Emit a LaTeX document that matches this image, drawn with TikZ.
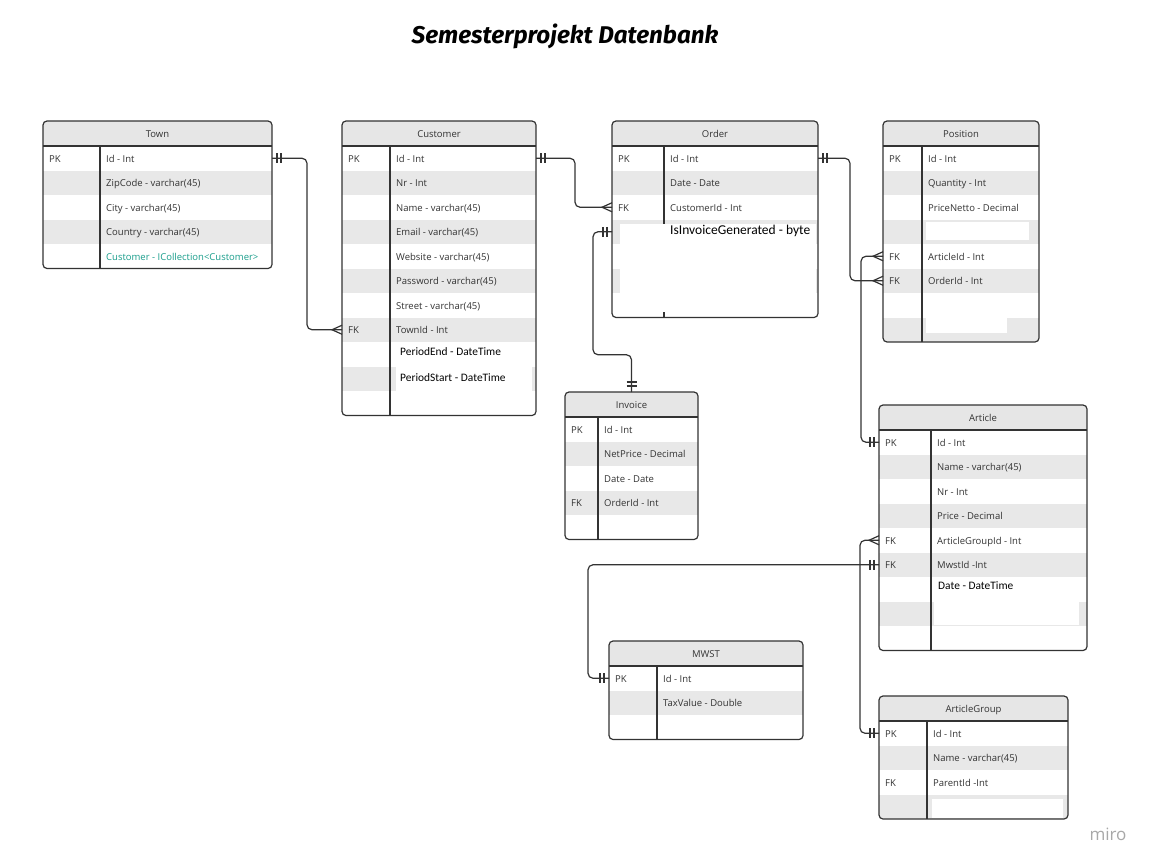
\documentclass[tikz,border=0pt]{standalone}
\usepackage{fontspec}
\setmainfont{Open Sans}
\newfontfamily\pastefont{Carlito}
\newfontfamily\titlefont{Fira Sans}
\usetikzlibrary{calc}
\definecolor{hdrgray}{HTML}{E6E6E6}
\definecolor{rowgray}{HTML}{E8E8E8}
\definecolor{ink}{HTML}{333333}
\definecolor{tealtext}{HTML}{1A9E8C}
\definecolor{mirogray}{HTML}{A8A8A8}
\tikzset{
  tblbox/.style={draw=ink, line width=1.2pt, rounded corners=4pt, inner sep=0pt, outer sep=0pt},
  tblline/.style={draw=ink, line width=1.2pt},
  hdrtxt/.style={font=\fontsize{9.5}{11}\selectfont, text=ink, inner sep=0pt, anchor=base},
  keytxt/.style={font=\fontsize{9.5}{11}\selectfont, text=ink, inner sep=0pt, anchor=base west},
  fldtxt/.style={font=\fontsize{9.5}{11}\selectfont, text=ink, inner sep=0pt, anchor=base west},
  pastetxt/.style={font=\pastefont\fontsize{11.4}{13}\selectfont, text=black, inner sep=0pt, anchor=west},
  conn/.style={draw=ink, line width=1.2pt, rounded corners=5pt},
  endmark/.style={draw=ink, line width=1.2pt},
}
\newcommand\rowh{24.5}
% #1 name, #2 x, #3 y, #4 width, #5 divider offset, #6 rows, #7 title
\newcommand\ertable[7]{%
  \pgfmathsetmacro\tblh{25+#6*\rowh}%
  \pgfmathsetmacro\tbot{#3+\tblh}%
  \begin{scope}
    \clip[rounded corners=4pt] (#2,#3) rectangle ({#2+#4},\tbot);
    \fill[hdrgray] (#2,#3) rectangle ({#2+#4},{#3+25});
    \foreach \i in {2,4,...,#6} {\fill[rowgray] (#2,{#3+25+(\i-1)*\rowh}) rectangle ({#2+#4},{#3+25+\i*\rowh});}
  \end{scope}
  \node[tblbox, minimum width=#4pt, minimum height=\tblh pt, anchor=north west] (#1) at (#2,#3) {};
  \draw[tblline] (#2,{#3+25}) -- ({#2+#4},{#3+25});
  \draw[tblline] ({#2+#5},{#3+25}) -- ({#2+#5},\tbot);
  \node[hdrtxt] (#1-title) at ({#2+#4/2},{#3+12.5+3.5}) {#7};
  \foreach \i in {1,...,#6} {%
    \coordinate (#1-L\i) at (#2,{#3+25+(\i-0.5)*\rowh});
    \coordinate (#1-R\i) at ({#2+#4},{#3+25+(\i-0.5)*\rowh});
    \coordinate (#1-D\i) at ({#2+#5},{#3+25+(\i-0.5)*\rowh});
  }%
}
\newcommand\erkey[3]{\node[keytxt] (#1-k#2) at ([xshift=6pt,yshift=-4pt]#1-L#2) {#3};}
\newcommand\erfield[3]{\node[fldtxt] (#1-f#2) at ([xshift=6pt,yshift=-4pt]#1-D#2) {#3};}
\newcommand\barsR[1]{%
  \draw[endmark] ([xshift=5pt,yshift=5pt]#1) -- ([xshift=5pt,yshift=-5pt]#1);
  \draw[endmark] ([xshift=9pt,yshift=5pt]#1) -- ([xshift=9pt,yshift=-5pt]#1);}
\newcommand\barsL[1]{%
  \draw[endmark] ([xshift=-5pt,yshift=5pt]#1) -- ([xshift=-5pt,yshift=-5pt]#1);
  \draw[endmark] ([xshift=-9pt,yshift=5pt]#1) -- ([xshift=-9pt,yshift=-5pt]#1);}
\newcommand\barsU[1]{%
  \draw[endmark] ([xshift=-5pt,yshift=6pt]#1) -- ([xshift=5pt,yshift=6pt]#1);
  \draw[endmark] ([xshift=-5pt,yshift=10pt]#1) -- ([xshift=5pt,yshift=10pt]#1);}
\newcommand\crowL[1]{%
  \draw[endmark] ([yshift=4.5pt]#1) -- ([xshift=-10pt]#1) -- ([yshift=-4.5pt]#1);}
\begin{document}
\begin{tikzpicture}[x=1pt,y=-1pt]
\useasboundingbox (0,0) rectangle (1153,867);
\fill[white] (0,0) rectangle (1153,867);

\node[font=\titlefont\bfseries\itshape\fontsize{24.2}{28}\selectfont, text=black, inner sep=0pt] (title) at (565,36) {Semesterprojekt Datenbank};

% Town
\ertable{town}{43}{121}{229}{57}{5}{Town}
\erkey{town}{1}{PK}\erfield{town}{1}{Id - Int}
\erfield{town}{2}{ZipCode - varchar(45)}
\erfield{town}{3}{City - varchar(45)}
\erfield{town}{4}{Country - varchar(45)}
\node[fldtxt, text=tealtext] (town-f5) at ([xshift=6pt,yshift=-4pt]town-D5) {Customer - ICollection<Customer>};

% Customer
\ertable{customer}{342}{121}{194}{48}{11}{Customer}
\erkey{customer}{1}{PK}\erfield{customer}{1}{Id - Int}
\erfield{customer}{2}{Nr - Int}
\erfield{customer}{3}{Name - varchar(45)}
\erfield{customer}{4}{Email - varchar(45)}
\erfield{customer}{5}{Website - varchar(45)}
\erfield{customer}{6}{Password - varchar(45)}
\erfield{customer}{7}{Street - varchar(45)}
\erkey{customer}{8}{FK}\erfield{customer}{8}{TownId - Int}
\fill[white] (396,366) rectangle (532,390.5);
\node[pastetxt] (customer-f9) at ([xshift=10pt,yshift=3pt]customer-D9) {PeriodEnd - DateTime};
\node[pastetxt] (customer-f10) at ([xshift=10pt,yshift=1.5pt]customer-D10) {PeriodStart - DateTime};

% Order
\ertable{order}{612}{121}{206}{52}{7}{Order}
\erkey{order}{1}{PK}\erfield{order}{1}{Id - Int}
\erfield{order}{2}{Date - Date}
\erkey{order}{3}{FK}\erfield{order}{3}{CustomerId - Int}
\fill[white] (620,224) rectangle (815.5,312);
\node[pastetxt, font=\pastefont\fontsize{13.5}{15}\selectfont] (order-f4) at ([xshift=6pt,yshift=1pt]order-D4) {IsInvoiceGenerated - byte};

% Position
\ertable{position}{883}{121}{156}{39}{8}{Position}
\erkey{position}{1}{PK}\erfield{position}{1}{Id - Int}
\erfield{position}{2}{Quantity - Int}
\erfield{position}{3}{PriceNetto - Decimal}
\fill[white] (926,222) rectangle (1029,240);
\erkey{position}{5}{FK}\erfield{position}{5}{ArticleId - Int}
\erkey{position}{6}{FK}\erfield{position}{6}{OrderId - Int}
\fill[white] (926,317) rectangle (1007,333);

% Invoice
\ertable{invoice}{565}{392}{133}{33}{5}{Invoice}
\erkey{invoice}{1}{PK}\erfield{invoice}{1}{Id - Int}
\erfield{invoice}{2}{NetPrice - Decimal}
\erfield{invoice}{3}{Date - Date}
\erkey{invoice}{4}{FK}\erfield{invoice}{4}{OrderId - Int}

% Article
\ertable{article}{879}{405}{208}{52}{9}{Article}
\erkey{article}{1}{PK}\erfield{article}{1}{Id - Int}
\erfield{article}{2}{Name - varchar(45)}
\erfield{article}{3}{Nr - Int}
\erfield{article}{4}{Price - Decimal}
\erkey{article}{5}{FK}\erfield{article}{5}{ArticleGroupId - Int}
\erkey{article}{6}{FK}\erfield{article}{6}{MwstId -Int}
\node[pastetxt] (article-f7) at ([xshift=7pt,yshift=3.5pt]article-D7) {Date - DateTime};
\fill[white] (934,601) rectangle (1079,625);

% MWST
\ertable{mwst}{609}{641}{194}{48}{3}{MWST}
\erkey{mwst}{1}{PK}\erfield{mwst}{1}{Id - Int}
\erfield{mwst}{2}{TaxValue - Double}

% ArticleGroup
\ertable{agroup}{879}{696}{189}{48}{4}{ArticleGroup}
\erkey{agroup}{1}{PK}\erfield{agroup}{1}{Id - Int}
\erfield{agroup}{2}{Name - varchar(45)}
\erkey{agroup}{3}{FK}\erfield{agroup}{3}{ParentId -Int}
\fill[white] (932,799) rectangle (1063,818);

% Connectors
\draw[conn] (town-R1) -- ++(35,0) |- (customer-L8);
\barsR{town-R1}\crowL{customer-L8}

\draw[conn] (customer-R1) -- ++(39,0) |- (order-L3);
\barsR{customer-R1}\crowL{order-L3}

\draw[conn] (order-R1) -- ++(32,0) |- (position-L6);
\barsR{order-R1}\crowL{position-L6}

\draw[conn] (order-L4) -- ++(-19,0) -- ++(0,123) -| (invoice.north);
\barsL{order-L4}\barsU{invoice.north}

\draw[conn] (position-L5) -- ++(-22,0) |- (article-L1);
\crowL{position-L5}\barsL{article-L1}

\draw[conn] (article-L6) -- ++(-291,0) |- (mwst-L1);
\barsL{article-L6}\barsL{mwst-L1}

\draw[conn] (article-L5) -- ++(-19,0) |- (agroup-L1);
\crowL{article-L5}\barsL{agroup-L1}

\node[font=\fontsize{17}{20}\selectfont, text=mirogray, inner sep=0pt] (miro) at (1108,834) {miro};
\end{tikzpicture}
\end{document}
